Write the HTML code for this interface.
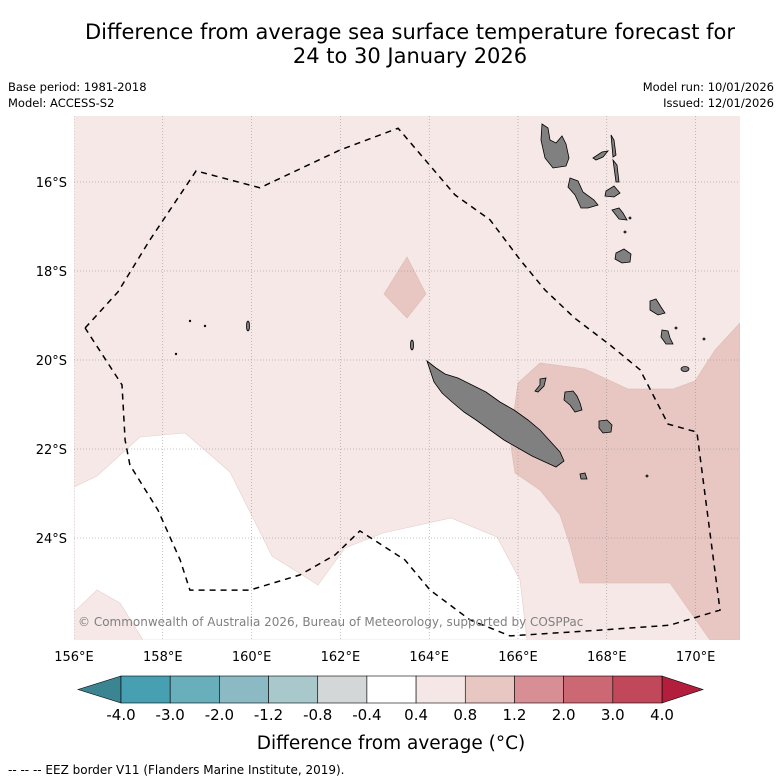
<!DOCTYPE html>
<html><head><meta charset="utf-8">
<style>
body{margin:0;background:#fff;width:781px;height:781px;overflow:hidden;font-family:"DejaVu Sans","Liberation Sans",sans-serif;}
svg{display:block}
</style></head>
<body>
<svg id="chart" width="781" height="781" viewBox="0 0 781 781">
<text x="410" y="39" text-anchor="middle" font-size="21" fill="#000">Difference from average sea surface temperature forecast for</text>
<text x="410" y="63" text-anchor="middle" font-size="21" fill="#000">24 to 30 January 2026</text>
<text x="8" y="91" font-size="11.5">Base period: 1981-2018</text>
<text x="8" y="107" font-size="11.5">Model: ACCESS-S2</text>
<text x="774" y="91" font-size="11.5" text-anchor="end">Model run: 10/01/2026</text>
<text x="774" y="107" font-size="11.5" text-anchor="end">Issued: 12/01/2026</text>
<defs><clipPath id="mapclip"><rect x="74" y="116" width="666" height="524"/></clipPath></defs>
<g clip-path="url(#mapclip)">
<rect x="74" y="116" width="666" height="524" fill="#f5e8e6"/>
<polygon fill="#ffffff" stroke="#e6cfcc" stroke-width="0.6" points="74,487 97,476 140,437 185,433 230,472 272,556 318,585 345,548 383,533 451,518 497,537 520,580 527,640 143,640 120,603 97,590 74,612"/>
<polygon fill="#e8c7c2" stroke="#ddb9b4" stroke-width="0.6" points="740,323 715,350 695,381 673,389 628,389 585,369 540,363 518,383 510,440 515,473 540,490 560,515 570,545 580,583 670,583 710,640 740,640"/>
<polygon fill="#e8c7c2" stroke="#ddb9b4" stroke-width="0.6" points="407,257 426,294 407,318 384,294"/>
<g id="grid"></g>
<g fill="#808080" stroke="#000" stroke-width="0.8">
<polygon points="427,361 436,368 445,374 458,378 472,385 486,392 500,402 514,410 528,420 540,430 550,441 560,452 564,461 556,467 545,462 532,456 518,448 504,440 490,430 476,420 464,412 452,402 442,393 434,382"/>
<polygon points="542,124 548,128 550,140 556,143 562,136 566,144 569,158 566,166 553,168 545,158 541,140"/>
<polygon points="570,178 578,181 583,192 594,200 598,205 588,208 581,208 575,195 568,187"/>
<polygon points="606,191 614,186 620,193 614,197 605,196"/>
<polygon points="611,135 614,140 616,155 613,157"/>
<polygon points="613,160 617,165 619,182 616,182"/>
<polygon points="593,158 602,152 608,151 603,157 596,160"/>
<polygon points="612,210 619,208 623,213 627,220 619,219"/>
<polygon points="616,253 624,249 631,254 630,262 622,263 615,259"/>
<polygon points="650,301 656,299 661,307 665,313 658,315 650,310"/>
<polygon points="662,330 668,331 670,338 673,344 666,344 661,337"/>
<polygon points="540,379 546,378 544,386 538,392 535,391 540,385"/>
<polygon points="565,392 573,391 577,396 580,403 582,410 575,412 570,405 564,400"/>
<polygon points="599,421 607,420 612,425 611,432 603,433 599,428"/>
<polygon points="580,474 585,473 587,479 581,479"/>
<ellipse cx="685" cy="369" rx="4" ry="2.5"/>
<ellipse cx="248" cy="326" rx="1.5" ry="5"/>
<ellipse cx="412" cy="345" rx="1.5" ry="5"/>
<circle cx="676" cy="328" r="1"/>
<circle cx="704" cy="339" r="1"/>
<circle cx="647" cy="476" r="1"/>
<circle cx="190" cy="321" r="0.8"/>
<circle cx="205" cy="326" r="0.8"/>
<circle cx="176" cy="354" r="0.8"/>
<circle cx="625" cy="232" r="1"/>
<circle cx="630" cy="218" r="1"/>
</g>
<path id="eez" fill="none" stroke="#000" stroke-width="1.5" stroke-dasharray="6,5"/>
<text x="78" y="626" font-size="12" fill="#808080">© Commonwealth of Australia 2026, Bureau of Meteorology, supported by COSPPac</text>
</g>
<g id="axes" font-size="13"></g>
<g id="cbar"></g>
<text x="391" y="749" text-anchor="middle" font-size="18.5">Difference from average (°C)</text>
<text x="8" y="774" font-size="12">--  --  -- EEZ border V11 (Flanders Marine Institute, 2019).</text>
</svg>
<script>
const lonTicks=[156,158,160,162,164,166,168,170];
const latTicks=[-16,-18,-20,-22,-24];
const cbarLabels=["-4.0","-3.0","-2.0","-1.2","-0.8","-0.4","0.4","0.8","1.2","2.0","3.0","4.0"];
const cbarColors=["#46a0b1","#68aebb","#8bbac4","#a8c8cc","#d3d7d7","#ffffff","#f5e7e6","#e8c6c2","#d78e95","#cc6873","#c0485a"];
const eezLon=[156.25,156.99,157.71,158.75,160.19,161.99,163.30,164.58,165.37,166.05,166.61,167.28,168.07,168.75,169.38,170.03,170.55,169.42,167.85,165.82,164.92,164.02,163.45,162.44,161.88,161.09,159.96,158.61,158.39,157.89,157.26,157.15,157.08,156.25];
const eezLat=[-19.28,-18.47,-17.30,-15.75,-16.13,-15.28,-14.79,-16.29,-16.85,-17.75,-18.43,-19.06,-19.66,-20.22,-21.44,-21.62,-25.62,-25.96,-26.07,-26.20,-25.84,-25.17,-24.49,-23.84,-24.38,-24.83,-25.17,-25.17,-24.49,-23.37,-22.36,-21.80,-20.56,-19.28];
const NS="http://www.w3.org/2000/svg";
function xs(lon){return 74+(lon-156)*44.4;}
function ys(lat){return 182+(-16-lat)*44.5;}
function mk(t,a,p){const e=document.createElementNS(NS,t);for(const k in a)e.setAttribute(k,a[k]);p.appendChild(e);return e;}
const grid=document.getElementById('grid'),axes=document.getElementById('axes');
lonTicks.forEach(l=>{
 const ln=mk('line',{x1:xs(l),x2:xs(l),y1:116,y2:640,stroke:'#888','stroke-width':0.5,'stroke-dasharray':'1,2'},grid);
 
 
 const t=mk('text',{x:xs(l),y:661,'text-anchor':'middle'},axes);
 t.textContent=l+'°E';
 
 
});
latTicks.forEach(l=>{
 const ln=mk('line',{x1:74,x2:740,y1:ys(l),y2:ys(l),stroke:'#888','stroke-width':0.5,'stroke-dasharray':'1,2'},grid);
 
 
 const t=mk('text',{x:67,y:ys(l)+5,'text-anchor':'end'},axes);
 t.textContent=(-l)+'°S';
 
 
});
let d='';eezLon.forEach((lo,i)=>{d+=(i?'L':'M')+xs(lo).toFixed(1)+','+ys(eezLat[i]).toFixed(1);});
document.getElementById('eez').setAttribute('d',d);
const cb=document.getElementById('cbar');const x0=121,x1=662,y0=676,y1=703,n=cbarColors.length,w=(x1-x0)/n;
const lt=mk('polygon',{points:`${x0},${y0} 78,${(y0+y1)/2} ${x0},${y1}`,fill:'#3b8592',stroke:'#000','stroke-width':0.6},cb);


const rt=mk('polygon',{points:`${x1},${y0} 703,${(y0+y1)/2} ${x1},${y1}`,fill:'#b21e3c',stroke:'#000','stroke-width':0.6},cb);


cbarColors.forEach((c,i)=>{
 const r=mk('rect',{x:x0+i*w,y:y0,width:w,height:y1-y0,fill:c,stroke:'#000','stroke-width':0.6},cb);
 
 
});
cbarLabels.forEach((s,i)=>{
 const t=mk('text',{x:x0+i*w,y:720,'text-anchor':'middle','font-size':15},cb);
 t.textContent=s;
 
 
});
</script>
</body></html>
